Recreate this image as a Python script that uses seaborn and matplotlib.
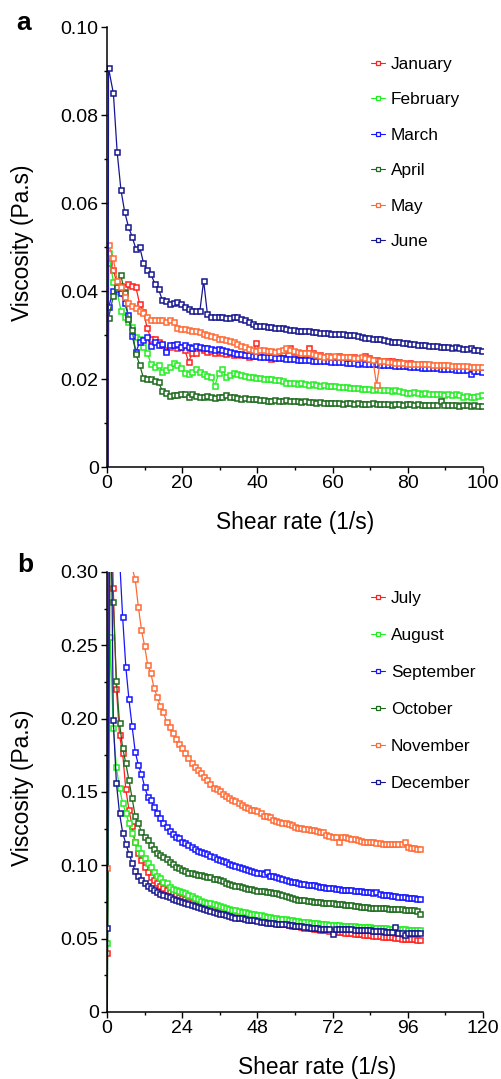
"""
Monthly viscosity vs shear rate, two stacked panels (a: Jan-Jun, b: Jul-Dec).
"""

import matplotlib

matplotlib.use("Agg")
import matplotlib.pyplot as plt
import pandas as pd
import seaborn as sns
from matplotlib.lines import Line2D
from matplotlib.ticker import FuncFormatter, MultipleLocator

# ---- panel a: shear-rate readings (1/s); first entry is the zero reading
SHEAR_A = [0.3, 0.4,
           1.7, 2.7, 3.7, 4.7, 5.7, 6.7, 7.7, 8.7, 9.7, 10.7,
           11.7, 12.7, 13.7, 14.7, 15.7, 16.7, 17.7, 18.7, 19.7, 20.7,
           21.7, 22.7, 23.7, 24.7, 25.7, 26.7, 27.7, 28.7, 29.7, 30.7,
           31.7, 32.7, 33.7, 34.7, 35.7, 36.7, 37.7, 38.7, 39.7, 40.7,
           41.7, 42.7, 43.7, 44.7, 45.7, 46.7, 47.7, 48.7, 49.7, 50.7,
           51.7, 52.7, 53.7, 54.7, 55.7, 56.7, 57.7, 58.7, 59.7, 60.7,
           61.7, 62.7, 63.7, 64.7, 65.7, 66.7, 67.7, 68.7, 69.7, 70.7,
           71.7, 72.7, 73.7, 74.7, 75.7, 76.7, 77.7, 78.7, 79.7, 80.7,
           81.7, 82.7, 83.7, 84.7, 85.7, 86.7, 87.7, 88.7, 89.7, 90.7,
           91.7, 92.7, 93.7, 94.7, 95.7, 96.7, 97.7, 98.7, 99.7]

JAN = [0.0, 0.0463,
       0.0448, 0.0415, 0.0412, 0.0410, 0.0415, 0.0412, 0.0408, 0.0370, 0.0353, 0.0315,
       0.0292, 0.0290, 0.0285, 0.0277, 0.0266, 0.0273, 0.0277, 0.0270, 0.0272, 0.0266,
       0.0239, 0.0258, 0.0258, 0.0270, 0.0266, 0.0262, 0.0264, 0.0258, 0.0262, 0.0260,
       0.0257, 0.0258, 0.0255, 0.0256, 0.0254, 0.0255, 0.0251, 0.0258, 0.0281, 0.0262,
       0.0258, 0.0255, 0.0245, 0.0256, 0.0258, 0.0260, 0.0265, 0.0270, 0.0262, 0.0256,
       0.0254, 0.0258, 0.0270, 0.0258, 0.0253, 0.0255, 0.0250, 0.0252, 0.0250, 0.0249,
       0.0252, 0.0250, 0.0248, 0.0251, 0.0249, 0.0246, 0.0248, 0.0252, 0.0247, 0.0244,
       0.0243, 0.0242, 0.0241, 0.0242, 0.0240, 0.0238, 0.0239, 0.0237, 0.0235, 0.0236,
       0.0233, 0.0232, 0.0233, 0.0231, 0.0230, 0.0229, 0.0230, 0.0228, 0.0226, 0.0227,
       0.0225, 0.0224, 0.0223, 0.0222, 0.0224, 0.0221, 0.0222, 0.0220, 0.0219]

FEB = [0.0, 0.0487,
       0.0421, 0.0400, 0.0355, 0.0342, 0.0330, 0.0319, 0.0295, 0.0292, 0.0273, 0.0260,
       0.0234, 0.0227, 0.0232, 0.0217, 0.0220, 0.0228, 0.0236, 0.0232, 0.0225, 0.0213,
       0.0212, 0.0217, 0.0222, 0.0217, 0.0212, 0.0207, 0.0204, 0.0184, 0.0214, 0.0222,
       0.0205, 0.0210, 0.0213, 0.0212, 0.0210, 0.0207, 0.0205, 0.0204, 0.0202, 0.0203,
       0.0201, 0.0199, 0.0200, 0.0197, 0.0198, 0.0195, 0.0192, 0.0191, 0.0190, 0.0189,
       0.0190, 0.0188, 0.0187, 0.0188, 0.0186, 0.0185, 0.0186, 0.0184, 0.0183, 0.0184,
       0.0182, 0.0181, 0.0182, 0.0180, 0.0179, 0.0180, 0.0178, 0.0177, 0.0178, 0.0176,
       0.0177, 0.0175, 0.0174, 0.0175, 0.0173, 0.0174, 0.0172, 0.0171, 0.0169, 0.0168,
       0.0170, 0.0168, 0.0167, 0.0169, 0.0167, 0.0166, 0.0165, 0.0166, 0.0164, 0.0165,
       0.0163, 0.0166, 0.0164, 0.0158, 0.0162, 0.0160, 0.0158, 0.0161, 0.0164]

MAR = [0.0, 0.0363,
       0.0400, 0.0404, 0.0395, 0.0372, 0.0345, 0.0298, 0.0262, 0.0283, 0.0289, 0.0296,
       0.0275, 0.0283, 0.0277, 0.0280, 0.0262, 0.0277, 0.0277, 0.0280, 0.0273, 0.0277,
       0.0273, 0.0270, 0.0274, 0.0272, 0.0270, 0.0271, 0.0268, 0.0267, 0.0269, 0.0265,
       0.0264, 0.0262, 0.0259, 0.0257, 0.0257, 0.0255, 0.0255, 0.0252, 0.0252, 0.0251,
       0.0250, 0.0249, 0.0249, 0.0248, 0.0247, 0.0248, 0.0246, 0.0245, 0.0245, 0.0244,
       0.0244, 0.0243, 0.0243, 0.0242, 0.0241, 0.0242, 0.0240, 0.0240, 0.0239, 0.0239,
       0.0238, 0.0238, 0.0237, 0.0237, 0.0236, 0.0235, 0.0236, 0.0234, 0.0234, 0.0233,
       0.0233, 0.0232, 0.0232, 0.0231, 0.0231, 0.0230, 0.0230, 0.0229, 0.0229, 0.0228,
       0.0228, 0.0227, 0.0226, 0.0226, 0.0225, 0.0225, 0.0224, 0.0223, 0.0223, 0.0222,
       0.0222, 0.0221, 0.0221, 0.0220, 0.0220, 0.0211, 0.0219, 0.0218, 0.0217]

APR = [0.0, 0.0338,
       0.0389, 0.0410, 0.0436, 0.0395, 0.0336, 0.0311, 0.0257, 0.0232, 0.0202, 0.0200,
       0.0199, 0.0196, 0.0193, 0.0173, 0.0168, 0.0162, 0.0164, 0.0163, 0.0165, 0.0165,
       0.0160, 0.0165, 0.0162, 0.0160, 0.0158, 0.0161, 0.0158, 0.0157, 0.0158, 0.0160,
       0.0164, 0.0160, 0.0158, 0.0156, 0.0155, 0.0157, 0.0154, 0.0155, 0.0154, 0.0153,
       0.0152, 0.0151, 0.0150, 0.0152, 0.0151, 0.0149, 0.0153, 0.0150, 0.0151, 0.0149,
       0.0148, 0.0149, 0.0147, 0.0148, 0.0146, 0.0147, 0.0145, 0.0146, 0.0145, 0.0146,
       0.0145, 0.0144, 0.0145, 0.0146, 0.0144, 0.0145, 0.0144, 0.0143, 0.0144, 0.0145,
       0.0144, 0.0143, 0.0144, 0.0143, 0.0142, 0.0144, 0.0143, 0.0142, 0.0143, 0.0144,
       0.0142, 0.0143, 0.0141, 0.0142, 0.0141, 0.0142, 0.0140, 0.0149, 0.0141, 0.0140,
       0.0141, 0.0140, 0.0139, 0.0141, 0.0140, 0.0139, 0.0140, 0.0138, 0.0139]

MAY = [0.0, 0.0505,
       0.0474, 0.0423, 0.0410, 0.0387, 0.0372, 0.0366, 0.0362, 0.0355, 0.0350, 0.0341,
       0.0335, 0.0335, 0.0334, 0.0335, 0.0330, 0.0334, 0.0330, 0.0317, 0.0313, 0.0313,
       0.0311, 0.0309, 0.0309, 0.0306, 0.0302, 0.0300, 0.0297, 0.0295, 0.0292, 0.0290,
       0.0288, 0.0286, 0.0283, 0.0280, 0.0276, 0.0273, 0.0268, 0.0266, 0.0264, 0.0267,
       0.0265, 0.0264, 0.0263, 0.0262, 0.0264, 0.0266, 0.0270, 0.0266, 0.0264, 0.0261,
       0.0260, 0.0259, 0.0258, 0.0256, 0.0255, 0.0253, 0.0251, 0.0252, 0.0251, 0.0252,
       0.0251, 0.0251, 0.0250, 0.0249, 0.0248, 0.0247, 0.0249, 0.0248, 0.0246, 0.0243,
       0.0187, 0.0242, 0.0240, 0.0239, 0.0238, 0.0237, 0.0236, 0.0236, 0.0235, 0.0234,
       0.0234, 0.0234, 0.0233, 0.0233, 0.0233, 0.0232, 0.0232, 0.0232, 0.0231, 0.0231,
       0.0230, 0.0230, 0.0229, 0.0229, 0.0229, 0.0228, 0.0228, 0.0228, 0.0228]

JUN = [0.0, 0.0907,
       0.0849, 0.0716, 0.0630, 0.0580, 0.0546, 0.0523, 0.0495, 0.0500, 0.0464, 0.0448,
       0.0438, 0.0417, 0.0404, 0.0380, 0.0378, 0.0370, 0.0373, 0.0376, 0.0370, 0.0363,
       0.0358, 0.0355, 0.0354, 0.0355, 0.0423, 0.0348, 0.0342, 0.0340, 0.0341, 0.0341,
       0.0339, 0.0338, 0.0342, 0.0340, 0.0336, 0.0333, 0.0330, 0.0325, 0.0321, 0.0320,
       0.0320, 0.0318, 0.0319, 0.0317, 0.0315, 0.0316, 0.0313, 0.0312, 0.0311, 0.0310,
       0.0309, 0.0309, 0.0308, 0.0307, 0.0306, 0.0305, 0.0305, 0.0304, 0.0303, 0.0303,
       0.0302, 0.0302, 0.0301, 0.0300, 0.0299, 0.0297, 0.0296, 0.0294, 0.0293, 0.0292,
       0.0291, 0.0290, 0.0288, 0.0287, 0.0285, 0.0284, 0.0283, 0.0282, 0.0281, 0.0280,
       0.0279, 0.0278, 0.0277, 0.0277, 0.0276, 0.0275, 0.0274, 0.0273, 0.0272, 0.0272,
       0.0271, 0.0272, 0.0270, 0.0269, 0.0268, 0.0270, 0.0267, 0.0266, 0.0264]

# ---- panel b: shear-rate readings (1/s)
SHEAR_B = [0.02, 0.1,
           1, 2, 3, 4, 5, 6, 7, 8, 9, 10,
           11, 12, 13, 14, 15, 16, 17, 18, 19, 20,
           21, 22, 23, 24, 25, 26, 27, 28, 29, 30,
           31, 32, 33, 34, 35, 36, 37, 38, 39, 40,
           41, 42, 43, 44, 45, 46, 47, 48, 49, 50,
           51, 52, 53, 54, 55, 56, 57, 58, 59, 60,
           61, 62, 63, 64, 65, 66, 67, 68, 69, 70,
           71, 72, 73, 74, 75, 76, 77, 78, 79, 80,
           81, 82, 83, 84, 85, 86, 87, 88, 89, 90,
           91, 92, 93, 94, 95, 96, 97, 98, 99, 100]

JUL = [0.0, 0.0400,
       0.4000, 0.2890, 0.2205, 0.1886, 0.1764, 0.1518, 0.1380, 0.1270, 0.1161, 0.1082,
       0.1036, 0.0991, 0.0957, 0.0923, 0.0900, 0.0878, 0.0860, 0.0845, 0.0830, 0.0818,
       0.0808, 0.0797, 0.0787, 0.0778, 0.0768, 0.0760, 0.0752, 0.0743, 0.0735, 0.0727,
       0.0720, 0.0713, 0.0706, 0.0700, 0.0697, 0.0688, 0.0682, 0.0677, 0.0672, 0.0666,
       0.0661, 0.0656, 0.0652, 0.0647, 0.0645, 0.0639, 0.0635, 0.0631, 0.0626, 0.0622,
       0.0618, 0.0614, 0.0611, 0.0607, 0.0603, 0.0600, 0.0599, 0.0593, 0.0589, 0.0586,
       0.0583, 0.0580, 0.0576, 0.0571, 0.0570, 0.0567, 0.0565, 0.0562, 0.0559, 0.0556,
       0.0554, 0.0551, 0.0548, 0.0546, 0.0544, 0.0541, 0.0538, 0.0536, 0.0533, 0.0531,
       0.0529, 0.0527, 0.0525, 0.0522, 0.0521, 0.0518, 0.0516, 0.0514, 0.0512, 0.0510,
       0.0508, 0.0506, 0.0505, 0.0500, 0.0501, 0.0499, 0.0497, 0.0496, 0.0494, 0.0492]

AUG = [0.0, 0.0470,
       0.2560, 0.1934, 0.1668, 0.1525, 0.1423, 0.1359, 0.1286, 0.1218, 0.1161, 0.1116,
       0.1082, 0.1048, 0.1014, 0.0991, 0.0957, 0.0927, 0.0911, 0.0888, 0.0877, 0.0855,
       0.0840, 0.0832, 0.0822, 0.0815, 0.0809, 0.0798, 0.0791, 0.0780, 0.0772, 0.0760,
       0.0752, 0.0745, 0.0741, 0.0735, 0.0728, 0.0722, 0.0716, 0.0710, 0.0704, 0.0698,
       0.0693, 0.0688, 0.0684, 0.0680, 0.0675, 0.0671, 0.0667, 0.0663, 0.0659, 0.0655,
       0.0650, 0.0647, 0.0644, 0.0640, 0.0637, 0.0634, 0.0631, 0.0628, 0.0625, 0.0622,
       0.0618, 0.0616, 0.0613, 0.0611, 0.0608, 0.0606, 0.0604, 0.0601, 0.0599, 0.0597,
       0.0595, 0.0593, 0.0591, 0.0590, 0.0588, 0.0587, 0.0585, 0.0584, 0.0583, 0.0582,
       0.0581, 0.0580, 0.0578, 0.0577, 0.0575, 0.0574, 0.0573, 0.0571, 0.0570, 0.0569,
       0.0568, 0.0567, 0.0565, 0.0564, 0.0563, 0.0562, 0.0561, 0.0560, 0.0560, 0.0559]

SEP = [0.0, 0.0,
       0.9500, 0.6200, 0.4500, 0.3100, 0.2690, 0.2355, 0.2132, 0.1950, 0.1775, 0.1684,
       0.1623, 0.1536, 0.1468, 0.1445, 0.1400, 0.1359, 0.1320, 0.1286, 0.1259, 0.1236,
       0.1214, 0.1195, 0.1184, 0.1160, 0.1150, 0.1138, 0.1127, 0.1112, 0.1100, 0.1090,
       0.1082, 0.1075, 0.1066, 0.1058, 0.1045, 0.1036, 0.1028, 0.1020, 0.1010, 0.1002,
       0.0997, 0.0990, 0.0984, 0.0977, 0.0968, 0.0963, 0.0957, 0.0950, 0.0945, 0.0939,
       0.0952, 0.0930, 0.0924, 0.0918, 0.0912, 0.0905, 0.0900, 0.0895, 0.0889, 0.0884,
       0.0877, 0.0874, 0.0871, 0.0868, 0.0866, 0.0864, 0.0860, 0.0855, 0.0851, 0.0847,
       0.0845, 0.0843, 0.0840, 0.0837, 0.0835, 0.0833, 0.0832, 0.0829, 0.0826, 0.0824,
       0.0822, 0.0820, 0.0818, 0.0816, 0.0814, 0.0820, 0.0807, 0.0798, 0.0797, 0.0795,
       0.0793, 0.0791, 0.0786, 0.0784, 0.0781, 0.0779, 0.0777, 0.0774, 0.0772, 0.0770]

OCT = [0.0, 0.0,
       0.3200, 0.2793, 0.2259, 0.1970, 0.1800, 0.1695, 0.1580, 0.1460, 0.1336, 0.1286,
       0.1226, 0.1190, 0.1173, 0.1140, 0.1110, 0.1086, 0.1070, 0.1055, 0.1040, 0.1025,
       0.1008, 0.0991, 0.0980, 0.0968, 0.0958, 0.0950, 0.0945, 0.0940, 0.0936, 0.0934,
       0.0928, 0.0923, 0.0918, 0.0910, 0.0905, 0.0900, 0.0890, 0.0880, 0.0872, 0.0866,
       0.0862, 0.0858, 0.0853, 0.0848, 0.0840, 0.0836, 0.0832, 0.0828, 0.0825, 0.0822,
       0.0820, 0.0816, 0.0812, 0.0808, 0.0803, 0.0798, 0.0792, 0.0787, 0.0780, 0.0772,
       0.0766, 0.0764, 0.0762, 0.0760, 0.0757, 0.0753, 0.0751, 0.0749, 0.0746, 0.0744,
       0.0742, 0.0741, 0.0739, 0.0737, 0.0734, 0.0731, 0.0730, 0.0728, 0.0725, 0.0722,
       0.0719, 0.0717, 0.0714, 0.0712, 0.0711, 0.0710, 0.0708, 0.0707, 0.0706, 0.0705,
       0.0704, 0.0702, 0.0701, 0.0700, 0.0698, 0.0697, 0.0696, 0.0694, 0.0690, 0.0668]

NOV = [0.0, 0.0980,
       1.3000, 0.8500, 0.6500, 0.5200, 0.4400, 0.3800, 0.3350, 0.3030, 0.2950, 0.2764,
       0.2605, 0.2495, 0.2366, 0.2309, 0.2211, 0.2150, 0.2088, 0.2043, 0.1980, 0.1945,
       0.1900, 0.1859, 0.1827, 0.1798, 0.1764, 0.1730, 0.1700, 0.1673, 0.1650, 0.1627,
       0.1605, 0.1580, 0.1555, 0.1530, 0.1522, 0.1505, 0.1485, 0.1470, 0.1458, 0.1445,
       0.1438, 0.1428, 0.1412, 0.1400, 0.1388, 0.1380, 0.1374, 0.1372, 0.1355, 0.1338,
       0.1334, 0.1330, 0.1310, 0.1302, 0.1297, 0.1292, 0.1288, 0.1284, 0.1275, 0.1264,
       0.1256, 0.1252, 0.1250, 0.1247, 0.1243, 0.1240, 0.1234, 0.1229, 0.1224, 0.1210,
       0.1200, 0.1196, 0.1190, 0.1162, 0.1192, 0.1193, 0.1186, 0.1182, 0.1178, 0.1172,
       0.1166, 0.1162, 0.1160, 0.1160, 0.1156, 0.1153, 0.1150, 0.1146, 0.1145, 0.1145,
       0.1144, 0.1145, 0.1146, 0.1143, 0.1160, 0.1128, 0.1120, 0.1116, 0.1112, 0.1110]

DEC = [0.0, 0.0570,
       0.4200, 0.1990, 0.1560, 0.1355, 0.1223, 0.1148, 0.1080, 0.1018, 0.0960, 0.0927,
       0.0902, 0.0877, 0.0860, 0.0843, 0.0832, 0.0820, 0.0805, 0.0798, 0.0790, 0.0781,
       0.0772, 0.0766, 0.0760, 0.0752, 0.0743, 0.0737, 0.0730, 0.0722, 0.0715, 0.0708,
       0.0703, 0.0696, 0.0690, 0.0683, 0.0675, 0.0670, 0.0665, 0.0660, 0.0654, 0.0648,
       0.0644, 0.0641, 0.0638, 0.0635, 0.0630, 0.0627, 0.0624, 0.0620, 0.0616, 0.0612,
       0.0609, 0.0607, 0.0605, 0.0603, 0.0602, 0.0600, 0.0597, 0.0594, 0.0591, 0.0589,
       0.0587, 0.0584, 0.0581, 0.0579, 0.0576, 0.0573, 0.0570, 0.0569, 0.0568, 0.0567,
       0.0569, 0.0530, 0.0567, 0.0566, 0.0565, 0.0565, 0.0564, 0.0563, 0.0562, 0.0561,
       0.0560, 0.0560, 0.0559, 0.0557, 0.0555, 0.0553, 0.0551, 0.0549, 0.0548, 0.0547,
       0.0546, 0.0577, 0.0542, 0.0541, 0.0528, 0.0540, 0.0538, 0.0537, 0.0536, 0.0536]

MONTHS_A = ["January", "February", "March", "April", "May", "June"]
MONTHS_B = ["July", "August", "September", "October", "November", "December"]
COLORS = ["#ff2020", "#22ee22", "#1515ff", "#1c6a1c", "#ff6a33", "#161690"]

W, H = 502, 1079


def fx(px):
    return px / W


def fy(py):
    return 1 - py / H


def y_fmt(v, _):
    return "0" if abs(v) < 1e-9 else f"{v:.2f}"


def draw_panel(ax, shear, months, values, xmax, xstep, ymax, ystep,
               legend_top, legend_spacing, xlabel_x):
    for name, vals, color in zip(months, values, COLORS):
        df = pd.DataFrame({"shear": shear, "viscosity": vals})
        start = 1 if vals[1] > 0 else 2
        sns.lineplot(data=df, x="shear", y="viscosity", ax=ax, color=color,
                     linewidth=0.9, marker="s", markersize=3.6,
                     markerfacecolor="white", markeredgecolor=color,
                     markeredgewidth=1.1, markevery=slice(start, None),
                     estimator=None, sort=False, legend=False)

    ax.set_xlim(0, xmax)
    ax.set_ylim(0, ymax)
    ax.xaxis.set_major_locator(MultipleLocator(xstep))
    ax.xaxis.set_minor_locator(MultipleLocator(xstep / 2))
    ax.yaxis.set_major_locator(MultipleLocator(ystep))
    ax.yaxis.set_minor_locator(MultipleLocator(ystep / 2))
    ax.yaxis.set_major_formatter(FuncFormatter(y_fmt))
    ax.xaxis.set_major_formatter(FuncFormatter(lambda v, _: f"{v:.0f}"))
    ax.tick_params(which="major", length=4, width=1, direction="out",
                   labelsize=14, pad=2, colors="black")
    ax.tick_params(which="minor", length=2.5, width=1, direction="out")
    sns.despine(ax=ax)
    for side in ("left", "bottom"):
        ax.spines[side].set_linewidth(1.1)
        ax.spines[side].set_color("black")
        ax.spines[side].set_zorder(5)

    ax.set_xlabel("Shear rate (1/s)", fontsize=16.4)
    ax.set_ylabel("Viscosity (Pa.s)", fontsize=16.4)
    ax.xaxis.label.set_verticalalignment("center")
    ax.yaxis.label.set_verticalalignment("center")
    ax.xaxis.set_label_coords(xlabel_x, -0.127)
    ax.yaxis.set_label_coords(-0.226, 0.51)

    handles = [Line2D([], [], color=c, linewidth=0.8, marker="s", markersize=3.2,
                      markerfacecolor="white", markeredgecolor=c, markeredgewidth=0.9)
               for c in COLORS]
    ax.legend(handles, months, loc="upper left",
              bbox_to_anchor=(fx(371), fy(legend_top)),
              bbox_transform=ax.figure.transFigure, frameon=False,
              fontsize=12.4, handlelength=0.8, handletextpad=0.35,
              labelspacing=legend_spacing, borderpad=0, borderaxespad=0)


sns.set_style("ticks", {"axes.edgecolor": "black", "xtick.color": "black",
                        "ytick.color": "black", "text.color": "black",
                        "axes.labelcolor": "black"})
plt.rcParams["font.family"] = ["Liberation Sans", "DejaVu Sans"]

fig = plt.figure(figsize=(W / 100, H / 100), dpi=100)
ax_a = fig.add_axes([fx(107), fy(467), fx(483) - fx(107), fy(27) - fy(467)])
ax_b = fig.add_axes([fx(107), fy(1012), fx(483) - fx(107), fy(572) - fy(1012)])

draw_panel(ax_a, SHEAR_A, MONTHS_A, [JAN, FEB, MAR, APR, MAY, JUN],
           100, 20, 0.10, 0.02, 57, 1.18, 0.5)
draw_panel(ax_b, SHEAR_B, MONTHS_B, [JUL, AUG, SEP, OCT, NOV, DEC],
           120, 24, 0.30, 0.05, 591, 1.27, 0.5585)

fig.text(fx(24), fy(23), "a", fontsize=19, fontweight="bold", ha="center", va="center")
fig.text(fx(25), fy(565), "b", fontsize=19, fontweight="bold", ha="center", va="center")

fig.savefig("out.png", dpi=100)
